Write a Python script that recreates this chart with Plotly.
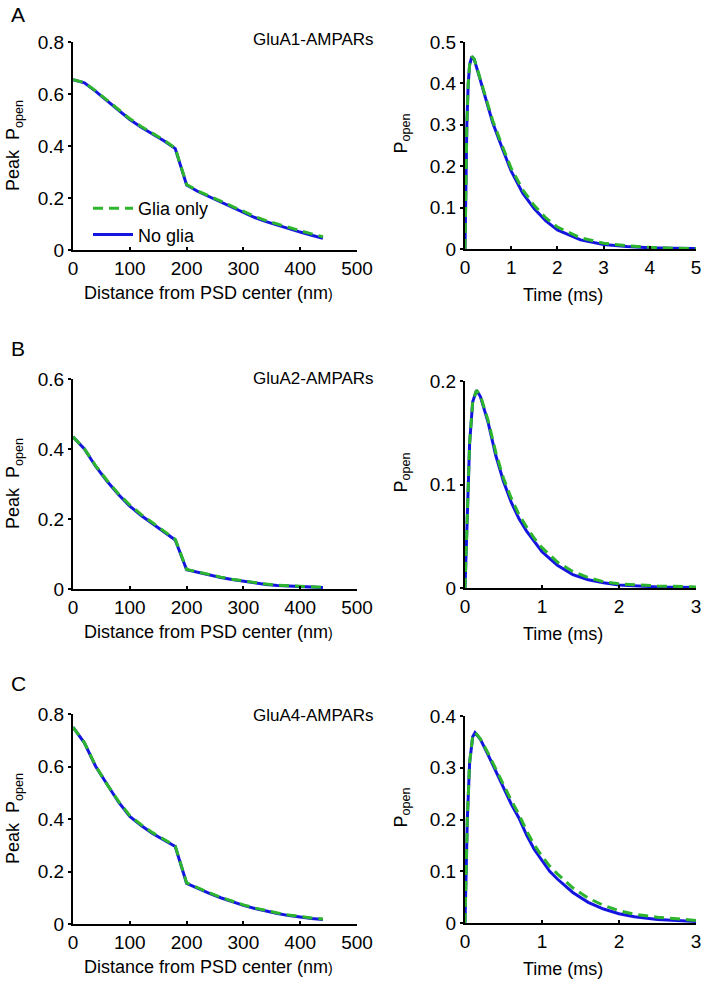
import plotly.graph_objects as go

# ---------------- data ----------------
dist_nm = [0, 20, 40, 60, 80, 100, 120, 140, 160, 180, 200, 220, 240, 260, 280, 300,
           320, 340, 360, 380, 400, 420, 440]

a1_noglia = [0.655, 0.643, 0.610, 0.575, 0.537, 0.502, 0.472, 0.446, 0.420, 0.390, 0.250,
             0.225, 0.205, 0.185, 0.163, 0.142, 0.125, 0.109, 0.095, 0.081, 0.069, 0.057, 0.045]
a1_glia = [0.655, 0.644, 0.612, 0.577, 0.540, 0.505, 0.475, 0.449, 0.423, 0.392, 0.252,
           0.227, 0.207, 0.187, 0.166, 0.146, 0.129, 0.113, 0.099, 0.086, 0.074, 0.062, 0.051]

a2_noglia = [0.435, 0.400, 0.350, 0.308, 0.270, 0.237, 0.210, 0.187, 0.165, 0.140, 0.055,
             0.047, 0.040, 0.033, 0.027, 0.022, 0.017, 0.013, 0.010, 0.008, 0.006, 0.005, 0.004]
a2_glia = [0.435, 0.401, 0.352, 0.310, 0.272, 0.240, 0.213, 0.190, 0.167, 0.142, 0.056,
           0.048, 0.041, 0.034, 0.028, 0.023, 0.018, 0.014, 0.011, 0.009, 0.007, 0.006, 0.005]

a4_noglia = [0.750, 0.690, 0.600, 0.530, 0.465, 0.410, 0.375, 0.345, 0.320, 0.295, 0.155,
             0.135, 0.117, 0.100, 0.085, 0.071, 0.059, 0.049, 0.040, 0.032, 0.026, 0.021, 0.017]
a4_glia = [0.750, 0.691, 0.602, 0.532, 0.468, 0.413, 0.378, 0.348, 0.323, 0.297, 0.157,
           0.137, 0.119, 0.102, 0.087, 0.073, 0.061, 0.051, 0.042, 0.034, 0.028, 0.023, 0.019]

t1_ms = [0, 0.02, 0.04, 0.07, 0.10, 0.15, 0.20, 0.30, 0.40, 0.50, 0.60, 0.80, 1.00, 1.25,
         1.50, 1.75, 2.00, 2.50, 3.00, 3.50, 4.00, 4.50, 5.00]
p1_noglia = [0, 0.15, 0.30, 0.40, 0.445, 0.465, 0.458, 0.420, 0.382, 0.345, 0.305, 0.245,
             0.188, 0.135, 0.097, 0.068, 0.046, 0.022, 0.011, 0.006, 0.003, 0.002, 0.001]
p1_glia = [0, 0.15, 0.30, 0.40, 0.445, 0.465, 0.459, 0.422, 0.385, 0.349, 0.310, 0.251,
           0.195, 0.143, 0.105, 0.075, 0.053, 0.027, 0.014, 0.008, 0.004, 0.002, 0.001]

t2_ms = [0, 0.03, 0.06, 0.10, 0.15, 0.20, 0.30, 0.40, 0.50, 0.60, 0.70, 0.80, 0.90, 1.00,
         1.20, 1.40, 1.60, 1.80, 2.00, 2.50, 3.00]
p2_noglia = [0, 0.080, 0.140, 0.180, 0.191, 0.185, 0.160, 0.128, 0.103, 0.083, 0.067, 0.055,
             0.045, 0.035, 0.022, 0.013, 0.008, 0.005, 0.003, 0.001, 0.0005]
p2_glia = [0, 0.080, 0.140, 0.180, 0.191, 0.186, 0.162, 0.131, 0.106, 0.087, 0.071, 0.059,
           0.048, 0.039, 0.025, 0.016, 0.010, 0.006, 0.004, 0.002, 0.001]

t4_ms = [0, 0.03, 0.06, 0.10, 0.13, 0.20, 0.30, 0.40, 0.50, 0.60, 0.70, 0.80, 0.90, 1.00,
         1.10, 1.20, 1.40, 1.60, 1.80, 2.00, 2.20, 2.50, 3.00]
p4_noglia = [0, 0.200, 0.310, 0.360, 0.368, 0.355, 0.325, 0.293, 0.260, 0.230, 0.203, 0.170,
             0.142, 0.120, 0.100, 0.085, 0.059, 0.040, 0.027, 0.018, 0.012, 0.007, 0.003]
p4_glia = [0, 0.200, 0.310, 0.360, 0.368, 0.356, 0.328, 0.297, 0.266, 0.237, 0.210, 0.178,
           0.151, 0.129, 0.110, 0.095, 0.068, 0.048, 0.034, 0.024, 0.017, 0.011, 0.005]

panel_labels = ["A", "B", "C"]
receptor_labels = ["GluA1-AMPARs", "GluA2-AMPARs", "GluA4-AMPARs"]
left_ymax = [0.8, 0.6, 0.8]
left_yticks = [[0, 0.2, 0.4, 0.6, 0.8], [0, 0.2, 0.4, 0.6], [0, 0.2, 0.4, 0.6, 0.8]]
right_ymax = [0.5, 0.2, 0.4]
right_yticks = [[0, 0.1, 0.2, 0.3, 0.4, 0.5], [0, 0.1, 0.2], [0, 0.1, 0.2, 0.3, 0.4]]
right_xmax = [5, 3, 3]
left_xticks = [0, 100, 200, 300, 400, 500]

series_left = [(a1_noglia, a1_glia), (a2_noglia, a2_glia), (a4_noglia, a4_glia)]
series_right = [(t1_ms, p1_noglia, p1_glia), (t2_ms, p2_noglia, p2_glia), (t4_ms, p4_noglia, p4_glia)]

# ---------------- layout geometry (pixels) ----------------
W, H = 706, 982
BLUE = "#1515E0"
GREEN = "#2DB52D"
FONT = "Liberation Sans, Arial, sans-serif"

left_x_px = (73, 357)
right_x_px = (465, 696)
left_y_px = [(42, 250), (379, 589), (714, 924)]
right_y_px = [(42, 249), (381, 588), (716, 923)]


def px_x(p):
    return p / W


def px_y(p):
    return 1 - p / H


def fmt(v):
    return "0" if v == 0 else ("%g" % v)


fig = go.Figure()
layout = dict(
    width=W, height=H, margin=dict(l=0, r=0, t=0, b=0, autoexpand=False),
    paper_bgcolor="white", plot_bgcolor="white",
    font=dict(family=FONT, size=18, color="black"),
    showlegend=True,
    legend=dict(x=px_x(88), y=px_y(190), xanchor="left", yanchor="top",
                traceorder="reversed", bgcolor="rgba(0,0,0,0)",
                font=dict(size=18), itemwidth=40, tracegroupgap=0),
)

annotations = []
axis_common = dict(showgrid=False, zeroline=False, showline=True, linecolor="black",
                   linewidth=2, ticklen=3, tickwidth=1.5, automargin=False,
                   tickcolor="black", tickfont=dict(size=19, family=FONT, color="black"))

for i in range(3):
    li = 2 * i + 1
    ri = 2 * i + 2
    xl = "x" if li == 1 else "x%d" % li
    yl = "y" if li == 1 else "y%d" % li
    xr = "x%d" % ri
    yr = "y%d" % ri

    nog, gl = series_left[i]
    fig.add_trace(go.Scatter(x=dist_nm, y=nog, mode="lines", name="No glia",
                             line=dict(color=BLUE, width=3), xaxis=xl, yaxis=yl,
                             showlegend=(i == 0)))
    fig.add_trace(go.Scatter(x=dist_nm, y=gl, mode="lines", name="Glia only",
                             line=dict(color=GREEN, width=3, dash="10px,6px"),
                             xaxis=xl, yaxis=yl, showlegend=(i == 0)))

    t, pn, pg = series_right[i]
    fig.add_trace(go.Scatter(x=t, y=pn, mode="lines", name="No glia",
                             line=dict(color=BLUE, width=3), xaxis=xr, yaxis=yr,
                             showlegend=False))
    fig.add_trace(go.Scatter(x=t, y=pg, mode="lines", name="Glia only",
                             line=dict(color=GREEN, width=3, dash="10px,6px"),
                             xaxis=xr, yaxis=yr, showlegend=False))

    ly0, ly1 = left_y_px[i]
    ry0, ry1 = right_y_px[i]
    xkey_l = "xaxis" if li == 1 else "xaxis%d" % li
    ykey_l = "yaxis" if li == 1 else "yaxis%d" % li
    layout[xkey_l] = dict(axis_common, ticks="inside",
                          domain=[px_x(left_x_px[0]), px_x(left_x_px[1])],
                          range=[0, 500], tickvals=left_xticks,
                          ticktext=[fmt(v) for v in left_xticks], anchor=yl)
    layout[ykey_l] = dict(axis_common, ticks="outside", domain=[px_y(ly1), px_y(ly0)],
                          range=[0, left_ymax[i]], tickvals=left_yticks[i],
                          ticktext=[fmt(v) for v in left_yticks[i]], anchor=xl)
    rxt = list(range(0, right_xmax[i] + 1))
    layout["xaxis%d" % ri] = dict(axis_common, ticks="inside",
                                  domain=[px_x(right_x_px[0]), px_x(right_x_px[1])],
                                  range=[0, right_xmax[i]], tickvals=rxt,
                                  ticktext=[fmt(v) for v in rxt], anchor=yr)
    layout["yaxis%d" % ri] = dict(axis_common, ticks="outside", domain=[px_y(ry1), px_y(ry0)],
                                  range=[0, right_ymax[i]], tickvals=right_yticks[i],
                                  ticktext=[fmt(v) for v in right_yticks[i]], anchor=xr)

    # panel letter
    annotations.append(dict(text=panel_labels[i], xref="paper", yref="paper",
                            x=px_x(18), y=px_y([15, 348, 683][i]), showarrow=False,
                            xanchor="center", yanchor="middle", font=dict(size=21)))
    # receptor label
    annotations.append(dict(text=receptor_labels[i], xref="paper", yref="paper",
                            x=px_x(376), y=px_y([40, 378, 715][i]), showarrow=False,
                            xanchor="right", yanchor="middle", font=dict(size=17)))
    # axis titles
    annotations.append(dict(text="Distance from PSD center (nm<span style='font-size:14px'>)</span>",
                            xref="paper", yref="paper",
                            x=px_x(208), y=px_y(ly1 + 43), showarrow=False,
                            xanchor="center", yanchor="middle", font=dict(size=18)))
    annotations.append(dict(text="Time (ms)", xref="paper", yref="paper",
                            x=px_x(563), y=px_y(ry1 + 46), showarrow=False,
                            xanchor="center", yanchor="middle", font=dict(size=18)))
    annotations.append(dict(text="Peak  P<sub>open</sub>", xref="paper", yref="paper",
                            x=px_x(14), y=px_y((ly0 + ly1) / 2), showarrow=False,
                            textangle=-90, xanchor="center", yanchor="middle",
                            font=dict(size=18)))
    annotations.append(dict(text="P<sub>open</sub>", xref="paper", yref="paper",
                            x=px_x(402), y=px_y((ry0 + ry1) / 2 - 12), showarrow=False,
                            textangle=-90, xanchor="center", yanchor="middle",
                            font=dict(size=18)))

layout["annotations"] = annotations
fig.update_layout(**layout)
fig.write_html("out.html", config={"displayModeBar": False},
               post_script="document.body.style.margin='0px';document.body.style.overflow='hidden';")
